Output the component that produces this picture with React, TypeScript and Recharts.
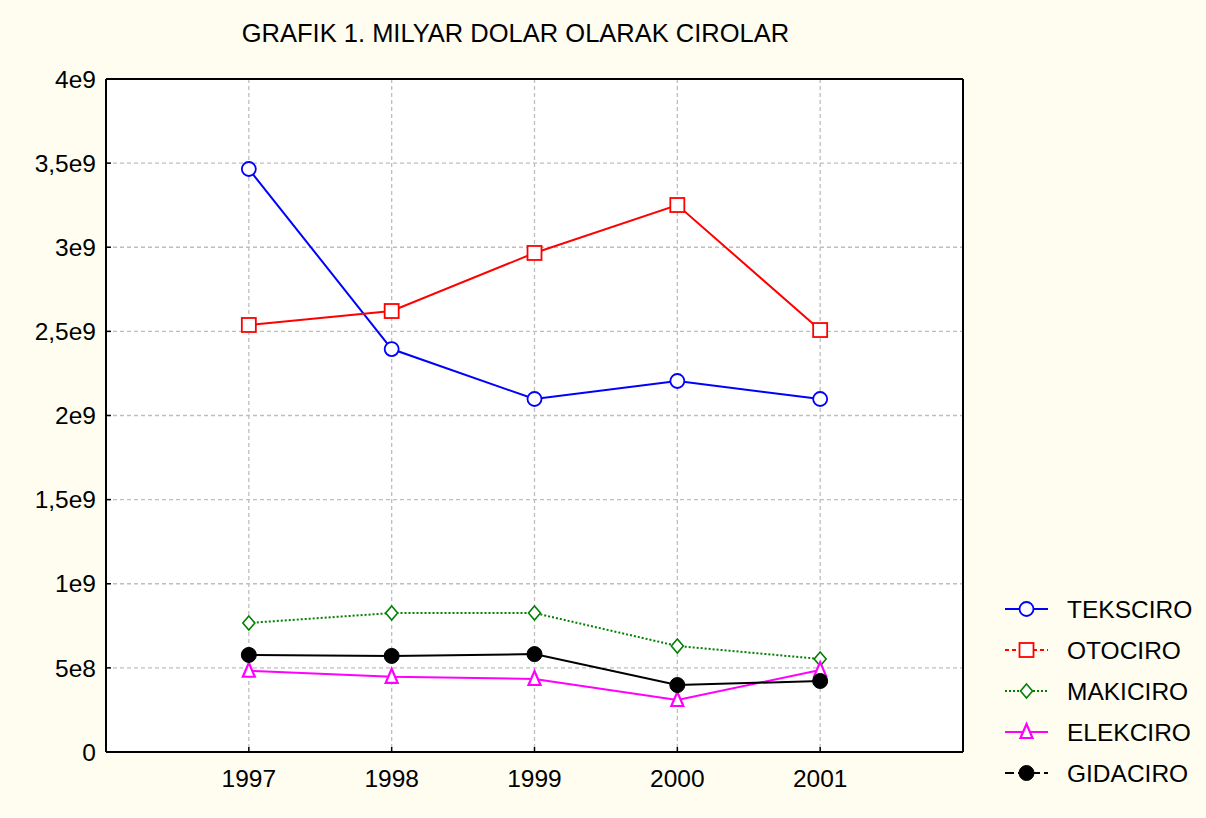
import React from "react";
import { LineChart, Line, XAxis, YAxis, CartesianGrid } from "recharts";

const years = [1997, 1998, 1999, 2000, 2001];
const teksciro = [3.465e9, 2.395e9, 2.098e9, 2.205e9, 2.098e9];
const otociro = [2.538e9, 2.621e9, 2.966e9, 3.251e9, 2.508e9];
const makiciro = [0.767e9, 0.826e9, 0.826e9, 0.63e9, 0.553e9];
const elekciro = [0.483e9, 0.447e9, 0.434e9, 0.309e9, 0.487e9];
const gidaciro = [0.577e9, 0.571e9, 0.582e9, 0.398e9, 0.422e9];

const yTicks = [0, 5e8, 1e9, 1.5e9, 2e9, 2.5e9, 3e9, 3.5e9, 4e9];
const yTickLabels = ["0", "5e8", "1e9", "1,5e9", "2e9", "2,5e9", "3e9", "3,5e9", "4e9"];
const title = "GRAFIK 1. MILYAR DOLAR OLARAK CIROLAR";

const data = years.map((y, i) => ({
  year: y,
  TEKSCIRO: teksciro[i],
  OTOCIRO: otociro[i],
  MAKICIRO: makiciro[i],
  ELEKCIRO: elekciro[i],
  GIDACIRO: gidaciro[i],
}));

const FONT = '"Liberation Sans", Arial, sans-serif';
const BG = "#FFFDF0";

type Shape = "circle" | "square" | "diamond" | "triangle" | "dot";

function marker(shape: Shape, cx: number, cy: number, color: string, key?: any) {
  switch (shape) {
    case "circle":
      return <circle key={key} cx={cx} cy={cy} r={7} fill="#fff" stroke={color} strokeWidth={1.8} />;
    case "square":
      return <rect key={key} x={cx - 7} y={cy - 7} width={14} height={14} fill="#fff" stroke={color} strokeWidth={1.8} />;
    case "diamond":
      return (
        <polygon key={key} points={`${cx},${cy - 7} ${cx + 6},${cy} ${cx},${cy + 7} ${cx - 6},${cy}`}
          fill="#fff" stroke={color} strokeWidth={1.6} />
      );
    case "triangle":
      return (
        <polygon key={key} points={`${cx},${cy - 8} ${cx + 6},${cy + 6} ${cx - 6},${cy + 6}`}
          fill="#fff" stroke={color} strokeWidth={2.2} />
      );
    default:
      return <circle key={key} cx={cx} cy={cy} r={7.5} fill={color} stroke={color} strokeWidth={1} />;
  }
}

const series: { key: string; color: string; shape: Shape; dash?: string; legendDash?: string }[] = [
  { key: "TEKSCIRO", color: "#0000FF", shape: "circle" },
  { key: "OTOCIRO", color: "#FF0000", shape: "square", legendDash: "4 3" },
  { key: "MAKICIRO", color: "#008000", shape: "diamond", dash: "2 2", legendDash: "2 2" },
  { key: "ELEKCIRO", color: "#FF00FF", shape: "triangle" },
  { key: "GIDACIRO", color: "#000000", shape: "dot", legendDash: "9 4" },
];

export default function App() {
  return (
    <div style={{ position: "absolute", left: 0, top: 0, width: 1206, height: 818, background: BG, fontFamily: FONT }}>
      <div style={{ position: "absolute", left: 0, top: 17, width: 1031, textAlign: "center", fontSize: 25.5, color: "#000", lineHeight: "32px" }}>
        {title}
      </div>
      <LineChart width={1206} height={818} data={data} margin={{ top: 78, right: 242, bottom: 0, left: 0 }}>
        <CartesianGrid xAxisId="b" yAxisId="l" stroke="#BEBEBE" strokeWidth={1.3} strokeDasharray="4 3" fill="#fff" />
        <XAxis dataKey="year" type="number" domain={[1996, 2002]} ticks={years} xAxisId="b" height={66}
          axisLine={{ stroke: "#000", strokeWidth: 2 }} tickLine={{ stroke: "#000", strokeWidth: 1.5 }}
          tickSize={-5} tickMargin={23}
          tick={{ fill: "#000", fontSize: 24.5, fontFamily: FONT }} />
        <XAxis dataKey="year" type="number" domain={[1996, 2002]} ticks={years} xAxisId="t" orientation="top" height={1}
          axisLine={{ stroke: "#000", strokeWidth: 2 }} tickLine={{ stroke: "#000", strokeWidth: 1.5 }}
          tickSize={-4} tick={false} />
        <YAxis type="number" domain={[0, 4e9]} ticks={yTicks} yAxisId="l" width={106}
          axisLine={{ stroke: "#000", strokeWidth: 2 }} tickLine={{ stroke: "#000", strokeWidth: 1.5 }}
          tickSize={-5} tickMargin={15} interval={0}
          tickFormatter={(v: number) => yTickLabels[yTicks.indexOf(v)] ?? String(v)}
          tick={{ fill: "#000", fontSize: 24.5, fontFamily: FONT }} />
        <YAxis type="number" domain={[0, 4e9]} ticks={yTicks} yAxisId="r" orientation="right" width={1}
          axisLine={{ stroke: "#000", strokeWidth: 2 }} tickLine={{ stroke: "#000", strokeWidth: 1.5 }}
          tickSize={-4} tick={false} />
        {series.map((s) => (
          <Line key={s.key} dataKey={s.key} xAxisId="b" yAxisId="l" stroke={s.color} strokeWidth={2}
            strokeDasharray={s.dash} isAnimationActive={false} activeDot={false}
            dot={(p: any) => marker(s.shape, p.cx, p.cy, s.color, `${s.key}-${p.index}`)} />
        ))}
      </LineChart>
      <svg style={{ position: "absolute", left: 990, top: 585 }} width={216} height={210}>
        {series.map((s, i) => {
          const cy = 24 + i * 41;
          return (
            <g key={s.key}>
              <line x1={15} y1={cy} x2={58} y2={cy} stroke={s.color} strokeWidth={2} strokeDasharray={s.legendDash ?? s.dash} />
              {marker(s.shape, 36.5, cy, s.color)}
              <text x={77} y={cy} dy="0.36em" fontSize={24.5} fontFamily={FONT} fill="#000">{s.key}</text>
            </g>
          );
        })}
      </svg>
    </div>
  );
}
